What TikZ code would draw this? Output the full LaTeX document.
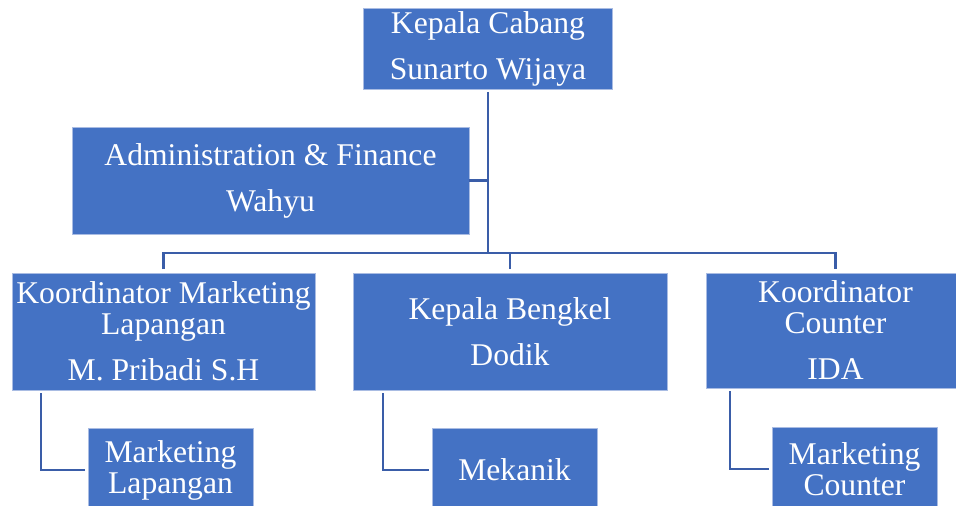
\documentclass[tikz,border=0pt]{standalone}
\usepackage{fontspec}
\setmainfont{Liberation Serif}
\usetikzlibrary{positioning}
\definecolor{orgfill}{HTML}{4472C4}
\definecolor{orgedge}{HTML}{A9BCE3}
\definecolor{orgline}{HTML}{3A5DA8}
\tikzset{
  orgbox/.style={
    rectangle,
    draw=orgedge,
    fill=orgfill,
    line width=0.5pt,
    text=white,
    align=center,
    inner sep=0pt,
    outer sep=0pt,
    font=\fontsize{18}{17.6}\selectfont
  },
  orghead/.style={orgbox, minimum height=2.34cm},
  orgsub/.style={orgbox, minimum width=3.3cm, minimum height=1.68cm},
  orglink/.style={draw=orgline, line width=1.2pt}
}
\newcommand{\orggap}{\\[8.6pt]}

\begin{document}
\begin{tikzpicture}[x=0.02cm, y=-0.02cm]
\useasboundingbox (0,0) rectangle (956,505);
\node[orgbox, minimum width=4.98cm, minimum height=1.62cm] (kacab) at (488,48.5) {Kepala Cabang\orggap Sunarto Wijaya};
\node[orgbox, minimum width=7.94cm, minimum height=2.14cm] (admin) at (270.5,180.5) {Administration \& Finance\orggap Wahyu};
\node[orghead, minimum width=6.06cm] (kml) at (163.5,331.5) {Koordinator Marketing\\Lapangan\orggap M. Pribadi S.H};
\node[orghead, minimum width=6.28cm] (kb) at (510,331.5) {Kepala Bengkel\orggap Dodik};
\node[orghead, minimum width=5.18cm, minimum height=2.3cm] (kc) at (835.5,330.5) {Koordinator\\Counter\orggap IDA};
\node[orgsub, below right=0.76cm and 1.52cm of kml.south west] (mlap) {Marketing\\Lapangan};
\node[orgsub, below right=0.76cm and 1.58cm of kb.south west] (mek) {Mekanik};
\node[orgsub, below right=0.78cm and 1.32cm of kc.south west] (mcount) {Marketing\\Counter};
\coordinate (bus) at (488,253);
\coordinate (kmlfoot) at ([xshift=0.58cm]kml.south west);
\coordinate (kbfoot) at ([xshift=0.6cm]kb.south west);
\coordinate (kcfoot) at ([xshift=0.48cm]kc.south west);
\draw[orglink, shorten <=0.06cm] (kacab.south) -- (bus);
\draw[orglink] (admin.east) -- (admin.east -| bus);
\draw[orglink, shorten <=0.08cm, shorten >=0.08cm] (kml.north) |- (bus) -| (kc.north);
\draw[orglink, shorten <=0.08cm] (kb.north) -- (kb.north |- bus);
\draw[orglink, shorten <=0.06cm, shorten >=0.06cm] (kmlfoot) |- (mlap.west);
\draw[orglink, shorten <=0.06cm, shorten >=0.06cm] (kbfoot) |- (mek.west);
\draw[orglink, shorten <=0.06cm, shorten >=0.06cm] (kcfoot) |- (mcount.west);
\end{tikzpicture}
\end{document}
